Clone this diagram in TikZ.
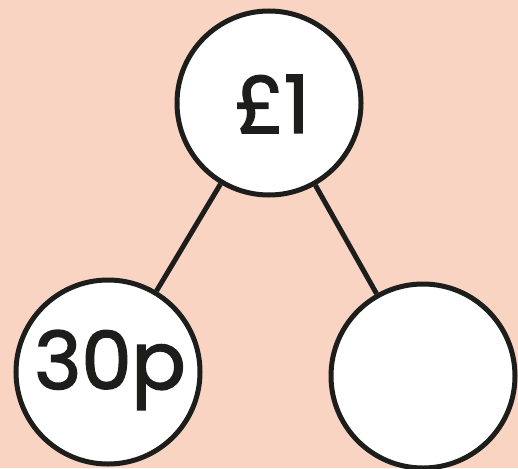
\documentclass[tikz,border=0pt]{standalone}
\usepackage{fontspec}
\setmainfont{Poppins}
\newfontfamily\heavyfont{Poppins}[FakeBold=2]
\definecolor{peach}{RGB}{249,212,195}
\definecolor{ink}{RGB}{29,29,27}
\begin{document}
\begin{tikzpicture}[x=1pt,y=-1pt,
  bubble/.style={circle,draw=ink,fill=white,line width=5pt,minimum size=184pt,inner sep=0pt},
  label/.style={font=\heavyfont\fontsize{80}{80}\selectfont,text=ink},
  link/.style={draw=ink,line width=5pt}]
\fill[peach] (0,0) rectangle (518,468);
\useasboundingbox (0,0) rectangle (518,468);
\node[bubble] (top) at (269,103) {};
\node[bubble] (left) at (108,372) {};
\node[bubble] (right) at (423,376) {};
\node[label] (toptext) at (272,104) {£1};
\node[label] (lefttext) at (110,370) {30p};
\draw[link] (top) -- (left);
\draw[link] (top) -- (right);
\end{tikzpicture}
\end{document}
